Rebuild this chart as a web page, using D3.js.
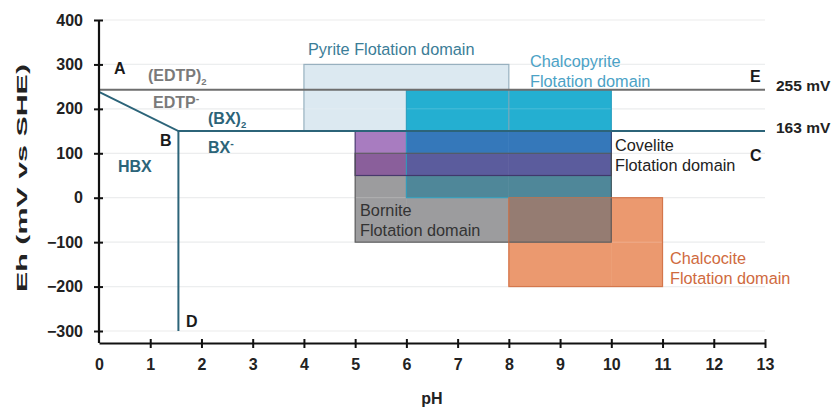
<!DOCTYPE html>
<html>
<head>
<meta charset="utf-8">
<script src="https://cdn.jsdelivr.net/npm/d3@7"></script>
<style>
  body { margin: 0; background: #fff; }
  text { font-family: "Liberation Sans", Arial, sans-serif; }
</style>
</head>
<body>
<div id="chart"></div>
<script>
// flotation domains (pH range, Eh range in mV)
const domainNames = ["Pyrite", "Chalcopyrite", "Covelite", "Bornite", "Chalcocite"];
const phMin = [4, 6, 5, 5, 8];
const phMax = [8, 10, 10, 10, 11];
const ehMin = [150, 0, 50, -100, -200];
const ehMax = [300, 243, 150, 100, 0];

// speciation boundaries
const upperBoundary = [[0, 243], [13, 243]];              // A - E
const lowerBoundary = [[0, 238], [1.55, 150], [13, 150]]; // A - B - C
const verticalBoundary = [[1.55, 150], [1.55, -300]];     // B - D

const xTicks = [0, 1, 2, 3, 4, 5, 6, 7, 8, 9, 10, 11, 12, 13];
const yTicks = [-300, -200, -100, 0, 100, 200, 300, 400];

// colours of domains and of their overlaps
const cellColor = {
  "Chalcopyrite": "#24afd1",
  "Covelite": "#a87cc0",
  "Bornite": "#9c9c9e",
  "Chalcocite": "#eb996f",
  "Chalcopyrite+Covelite": "#3578ba",
  "Covelite+Bornite": "#8a5f9b",
  "Chalcopyrite+Covelite+Bornite": "#5b5c9d",
  "Chalcopyrite+Bornite": "#4f8799",
  "Bornite+Chalcocite": "#957c72"
};
const strokeColor = {
  "Pyrite": "#8aa6b6",
  "Chalcopyrite": "#2a9dbd",
  "Covelite": "#3b2f63",
  "Bornite": "#4f4f50",
  "Chalcocite": "#cf6c40"
};

const width = 835, height = 410;
const svg = d3.select("#chart").append("svg")
  .attr("width", width).attr("height", height);

const x = d3.scaleLinear().domain([0, 13]).range([99, 765]);
const y = d3.scaleLinear().domain([-327, 400]).range([343, 20]);

// gridlines
const grid = g => g.selectAll("line").data(yTicks).join("line")
  .attr("x1", x(0)).attr("x2", x(13))
  .attr("y1", d => y(d)).attr("y2", d => y(d));
svg.append("g").call(grid).attr("stroke", "#e9ebec").attr("stroke-width", 1.2);

const domains = domainNames.map((n, i) => ({name: n, x0: phMin[i], x1: phMax[i], y0: ehMin[i], y1: ehMax[i]}));
const pyrite = domains[0];
const cu = domains.slice(1);

// pyrite fill underneath
svg.append("rect")
  .attr("x", x(pyrite.x0)).attr("y", y(pyrite.y1))
  .attr("width", x(pyrite.x1) - x(pyrite.x0))
  .attr("height", y(pyrite.y0) - y(pyrite.y1))
  .attr("fill", "#dce9f1");

// split copper domains into cells so overlaps get their own colour
const xs = Array.from(new Set(cu.flatMap(d => [d.x0, d.x1]))).sort((a, b) => a - b);
const ys = Array.from(new Set(cu.flatMap(d => [d.y0, d.y1]))).sort((a, b) => a - b);
const cells = [];
for (let i = 0; i < xs.length - 1; i++) {
  for (let j = 0; j < ys.length - 1; j++) {
    const mx = (xs[i] + xs[i + 1]) / 2, my = (ys[j] + ys[j + 1]) / 2;
    const key = cu.filter(d => mx > d.x0 && mx < d.x1 && my > d.y0 && my < d.y1)
      .map(d => d.name).join("+");
    if (key && cellColor[key]) cells.push({x0: xs[i], x1: xs[i + 1], y0: ys[j], y1: ys[j + 1], key});
  }
}
svg.append("g").selectAll("rect").data(cells).join("rect")
  .attr("x", d => x(d.x0)).attr("y", d => y(d.y1))
  .attr("width", d => x(d.x1) - x(d.x0))
  .attr("height", d => y(d.y0) - y(d.y1))
  .attr("fill", d => cellColor[d.key])
  .attr("stroke", d => cellColor[d.key]).attr("stroke-width", 0.5);

// faint gridlines showing through the boxes
svg.append("g").call(grid).attr("stroke", "#ffffff").attr("stroke-opacity", 0.18).attr("stroke-width", 1);

// outlines
svg.append("g").selectAll("rect").data(domains).join("rect")
  .attr("x", d => x(d.x0)).attr("y", d => y(d.y1))
  .attr("width", d => x(d.x1) - x(d.x0))
  .attr("height", d => y(d.y0) - y(d.y1))
  .attr("fill", "none")
  .attr("stroke", d => strokeColor[d.name])
  .attr("stroke-width", 1.2)
  .attr("stroke-opacity", 0.85);

// boundary lines
const line = d3.line().x(d => x(d[0])).y(d => y(d[1]));
svg.append("path").attr("d", line(upperBoundary))
  .attr("fill", "none").attr("stroke", "#6e6e6e").attr("stroke-width", 2);
svg.append("path").attr("d", line(lowerBoundary))
  .attr("fill", "none").attr("stroke", "#2c6479").attr("stroke-width", 2);
svg.append("path").attr("d", line(verticalBoundary))
  .attr("fill", "none").attr("stroke", "#2c6479").attr("stroke-width", 2);

// axes
const yAxis = svg.append("g").attr("transform", `translate(${x(0)},0)`)
  .call(d3.axisLeft(y).tickValues(yTicks).tickSize(5).tickPadding(11).tickSizeOuter(0));
yAxis.select(".domain").attr("d", `M0,${y(400)}V${y(-327)}`);
const xAxis = svg.append("g").attr("transform", `translate(0,${y(-327)})`)
  .call(d3.axisBottom(x).tickValues(xTicks).tickSize(5).tickPadding(11).tickSizeOuter(0));
[xAxis, yAxis].forEach(g => {
  g.select(".domain").attr("stroke", "#111").attr("stroke-width", 2.2);
  g.selectAll("text").attr("font-size", 16).attr("font-weight", "bold")
    .attr("fill", "#222").attr("font-family", "Liberation Sans, Arial, sans-serif");
  g.selectAll(".tick line").attr("stroke", "#111").attr("stroke-width", 2);
});
yAxis.selectAll(".tick line").attr("x1", 4);
xAxis.selectAll(".tick line").attr("y1", -4);
xAxis.selectAll(".tick").filter(d => d === 0).select("line").remove();

// axis titles
svg.append("text").attr("transform", "translate(27,178) rotate(-90)")
  .attr("text-anchor", "middle").attr("font-size", 15).attr("font-weight", "bold")
  .attr("textLength", 228).attr("lengthAdjust", "spacingAndGlyphs")
  .attr("fill", "#222").text("Eh (mV vs SHE)");
svg.append("text").attr("x", 432).attr("y", 404)
  .attr("text-anchor", "middle").attr("font-size", 16).attr("font-weight", "bold")
  .attr("fill", "#222").text("pH");

// point labels
const pointLabels = [["A", 114, 74], ["B", 160, 146], ["C", 750, 161], ["D", 186, 327], ["E", 750, 82]];
svg.append("g").selectAll("text").data(pointLabels).join("text")
  .attr("x", d => d[1]).attr("y", d => d[2])
  .attr("font-size", 16).attr("font-weight", "bold").attr("fill", "#1a1a1a")
  .text(d => d[0]);

svg.append("text").attr("x", 776).attr("y", 91)
  .attr("font-size", 15.5).attr("font-weight", "bold").attr("fill", "#222").text("255 mV");
svg.append("text").attr("x", 776).attr("y", 133)
  .attr("font-size", 15.5).attr("font-weight", "bold").attr("fill", "#222").text("163 mV");

// species labels
function species(txt, sub, sup, px, py, color) {
  const t = svg.append("text").attr("x", px).attr("y", py)
    .attr("font-size", 16).attr("font-weight", "bold").attr("fill", color);
  t.append("tspan").text(txt);
  if (sub) t.append("tspan").attr("font-size", 9.5).attr("dy", 4).text(sub);
  if (sup) t.append("tspan").attr("font-size", 10.5).attr("dy", -6).text(sup);
}
species("(EDTP)", "2", null, 148, 81, "#7a7a7a");
species("EDTP", null, "-", 153, 108, "#7a7a7a");
species("(BX)", "2", null, 208, 124, "#2c6479");
species("BX", null, "-", 208, 153, "#2c6479");
species("HBX", null, null, 118, 172, "#2c6479");

// domain labels
const domainLabels = [
  [["Pyrite Flotation domain"], 308, 55, "#3b7d97"],
  [["Chalcopyrite", "Flotation domain"], 530, 67, "#4ba2c6"],
  [["Covelite", "Flotation domain"], 615, 151, "#222"],
  [["Bornite", "Flotation domain"], 360, 216, "#333"],
  [["Chalcocite", "Flotation domain"], 670, 264, "#cf6a3e"]
];
domainLabels.forEach(([lines, px, py, color]) => {
  const t = svg.append("text").attr("x", px).attr("y", py)
    .attr("font-size", 16.3).attr("fill", color);
  lines.forEach((l, i) => t.append("tspan").attr("x", px).attr("dy", i ? 20 : 0).text(l));
});
</script>
</body>
</html>
